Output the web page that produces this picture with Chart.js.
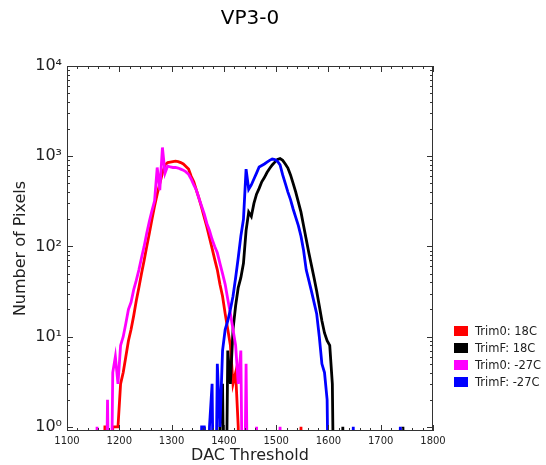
<!DOCTYPE html>
<html>
<head>
<meta charset="utf-8">
<script src="https://cdn.jsdelivr.net/npm/chart.js@4/dist/chart.umd.min.js"></script>
<style>
  body { margin: 0; background: #fff; font-family: "DejaVu Sans", sans-serif; }
  #wrap { position: relative; width: 546px; height: 465px; }
  #title { position: absolute; left: 0; top: 5px; width: 500px; text-align: center; font-size: 20px; color: #000; }
  #legend { position: absolute; left: 454px; top: 322px; font-size: 11.5px; color: #222; }
  .row { display: flex; align-items: center; height: 17px; }
  .sw { width: 14px; height: 10px; margin-right: 7px; }
</style>
</head>
<body>
<div id="wrap">
  <canvas id="myChart" width="546" height="465"></canvas>
  <div id="title">VP3-0</div>
  <div id="legend"></div>
</div>
<script>
// histogram bins: left edge of first bin and bin width (DAC units)
const binStart = 1150;
const binWidth = 5;

const seriesLabels = ['Trim0: 18C', 'TrimF: 18C', 'Trim0: -27C', 'TrimF: -27C'];
const seriesColors = ['#ff0000', '#000000', '#ff00ff', '#0000ff'];

// counts per bin, 1150 .. 1745
const trim0_18C = [
  0, 0, 0, 0, 1, 1, 0, 1, 1, 1,
  3, 4, 6, 9, 12, 17, 25, 35, 50, 70,
  100, 140, 200, 280, 380, 500, 650, 800, 850, 860,
  870, 880, 870, 850, 820, 770, 720, 600, 520, 420,
  340, 270, 210, 165, 125, 95, 72, 55, 38, 28,
  18, 12, 8, 3, 4, 1, 0, 0, 0, 0,
  0, 0, 0, 0, 0, 0, 0, 0, 0, 0,
  0, 0, 0, 0, 0, 0, 0, 0, 0, 1,
  0, 0, 0, 0, 0, 0, 0, 0, 0, 0,
  0, 0, 0, 0, 0, 0, 0, 0, 0, 0,
  0, 0, 0, 0, 0, 0, 0, 0, 0, 0,
  0, 0, 0, 0, 0, 0, 0, 0, 0, 0
];
const trimF_18C = [
  0, 0, 0, 0, 0, 0, 0, 0, 0, 0,
  0, 0, 0, 0, 0, 0, 0, 0, 0, 0,
  0, 0, 0, 0, 0, 0, 0, 0, 0, 0,
  0, 0, 0, 0, 0, 0, 0, 0, 0, 0,
  0, 0, 1, 0, 0, 0, 0, 0, 1, 3,
  0, 7, 3, 12, 22, 35, 45, 65, 150, 240,
  215, 300, 380, 440, 520, 580, 660, 730, 800, 860,
  920, 940, 900, 820, 740, 620, 500, 400, 310, 240,
  170, 120, 85, 62, 45, 32, 22, 15, 11, 9,
  8, 3, 0, 0, 0, 1, 0, 0, 0, 0,
  0, 0, 0, 0, 0, 0, 0, 0, 0, 0,
  0, 0, 0, 0, 0, 0, 0, 0, 1, 0
];
const trim0_m27C = [
  0, 1, 0, 0, 0, 2, 0, 4, 6, 3,
  8, 10, 14, 20, 24, 33, 42, 55, 75, 100,
  140, 190, 250, 320, 750, 420, 1250, 650, 780, 760,
  750, 750, 740, 720, 700, 670, 630, 560, 480, 420,
  340, 280, 230, 180, 150, 120, 100, 85, 65, 50,
  38, 26, 18, 12, 8, 3, 7, 0, 5, 0,
  0, 0, 1, 0, 0, 0, 0, 0, 0, 0,
  0, 1, 0, 0, 0, 0, 0, 0, 0, 0,
  0, 0, 0, 0, 0, 0, 0, 0, 0, 0,
  0, 0, 0, 0, 0, 0, 0, 0, 0, 0,
  0, 0, 0, 0, 0, 0, 0, 0, 0, 0,
  0, 0, 0, 0, 0, 0, 0, 0, 0, 0
];
const trimF_m27C = [
  0, 0, 0, 0, 0, 0, 0, 0, 0, 0,
  0, 0, 0, 0, 0, 0, 0, 0, 0, 0,
  0, 0, 0, 0, 0, 0, 0, 0, 0, 0,
  0, 0, 0, 0, 0, 0, 0, 0, 0, 0,
  0, 1, 1, 0, 1, 3, 0, 5, 1, 7,
  12, 15, 20, 28, 45, 75, 130, 200, 720, 430,
  480, 560, 650, 760, 790, 820, 860, 900, 930, 920,
  880, 800, 620, 500, 400, 330, 260, 210, 170, 130,
  90, 55, 42, 32, 24, 18, 10, 5, 4, 2,
  0, 0, 0, 0, 0, 0, 0, 0, 0, 1,
  0, 0, 0, 0, 0, 0, 0, 0, 0, 0,
  0, 0, 0, 0, 0, 0, 0, 1, 0, 0
];

const xTicks = [1100, 1200, 1300, 1400, 1500, 1600, 1700, 1800];
const yTicks = [1, 10, 100, 1000, 10000];
const yTickLabels = ['10⁰', '10¹', '10²', '10³', '10⁴'];

// points at bin centres; empty bins sit far below the log axis and get clipped
function toPoints(counts) {
  return counts.map((c, i) => ({ x: binStart + (i + 0.5) * binWidth, y: c > 0 ? c : 0.01 }));
}

const allSeries = [trim0_18C, trimF_18C, trim0_m27C, trimF_m27C];
const datasets = allSeries.map((s, i) => ({
  label: seriesLabels[i],
  data: toPoints(s),
  borderColor: seriesColors[i],
  backgroundColor: seriesColors[i],
  borderWidth: 2.8,
  pointRadius: 0,
  tension: 0,
  fill: false,
  order: allSeries.length - i
}));

const tickMarks = {
  id: 'tickMarks',
  afterDatasetsDraw(chart) {
    const { ctx, chartArea: a, scales: { x, y } } = chart;
    ctx.save();
    ctx.strokeStyle = '#333';
    ctx.lineWidth = 1;
    ctx.beginPath();
    x.ticks.forEach(t => {
      const px = Math.round(x.getPixelForValue(t.value)) + 0.5;
      const len = xTicks.includes(t.value) ? 6 : 3;
      ctx.moveTo(px, a.bottom); ctx.lineTo(px, a.bottom - len);
      ctx.moveTo(px, a.top); ctx.lineTo(px, a.top + len);
    });
    y.ticks.forEach(t => {
      const py = Math.round(y.getPixelForValue(t.value)) + 0.5;
      const len = yTicks.includes(t.value) ? 6 : 3;
      ctx.moveTo(a.left, py); ctx.lineTo(a.left + len, py);
      ctx.moveTo(a.right, py); ctx.lineTo(a.right - len, py);
    });
    ctx.stroke();
    ctx.strokeRect(a.left + 0.5, a.top + 0.5, a.width - 1, a.height - 1);
    ctx.restore();
  }
};

const ctx = document.getElementById('myChart').getContext('2d');
const chart = new Chart(ctx, {
  type: 'line',
  data: { datasets },
  plugins: [tickMarks],
  options: {
    responsive: false,
    animation: false,
    layout: { padding: { top: 66, right: 113, left: 0, bottom: 0 } },
    plugins: { legend: { display: false }, tooltip: { enabled: false } },
    scales: {
      x: {
        type: 'linear',
        min: 1100,
        max: 1800,
        afterFit: s => { s.height = 34; },
        afterBuildTicks: s => {
          const t = [];
          for (let v = 1100; v <= 1800; v += 20) t.push({ value: v });
          s.ticks = t;
        },
        grid: { display: false, drawTicks: false },
        border: { display: false },
        ticks: {
          autoSkip: false,
          maxRotation: 0,
          padding: 4,
          color: '#222',
          font: { family: 'DejaVu Sans', size: 10 },
          callback: v => xTicks.includes(v) ? String(v) : ''
        },
        title: {
          display: true,
          text: 'DAC Threshold',
          color: '#222',
          padding: 0,
          font: { family: 'DejaVu Sans', size: 16, lineHeight: 1.1 }
        }
      },
      y: {
        type: 'logarithmic',
        min: 0.9,
        max: 10000,
        afterFit: s => { s.width = 67; },
        afterBuildTicks: s => {
          const t = [];
          for (let k = 0; k < 4; k++) {
            for (let m = 1; m < 10; m++) t.push({ value: m * Math.pow(10, k) });
          }
          t.push({ value: 10000 });
          s.ticks = t;
        },
        grid: { display: false, drawTicks: false },
        border: { display: false },
        ticks: {
          autoSkip: false,
          padding: 5,
          color: '#222',
          font: { family: 'DejaVu Sans', size: 16 },
          callback: v => {
            const i = yTicks.indexOf(v);
            return i >= 0 ? yTickLabels[i] : '';
          }
        },
        title: {
          display: true,
          text: 'Number of Pixels',
          color: '#222',
          padding: { top: 12, bottom: 0 },
          font: { family: 'DejaVu Sans', size: 16, lineHeight: 1.1 }
        }
      }
    }
  }
});

function buildLegend() {
  const box = document.getElementById('legend');
  chart.data.datasets.forEach(d => {
    const row = document.createElement('div');
    row.className = 'row';
    row.innerHTML = `<span class="sw" style="background:${d.borderColor}"></span><span>${d.label}</span>`;
    box.appendChild(row);
  });
}
buildLegend();
</script>
</body>
</html>
